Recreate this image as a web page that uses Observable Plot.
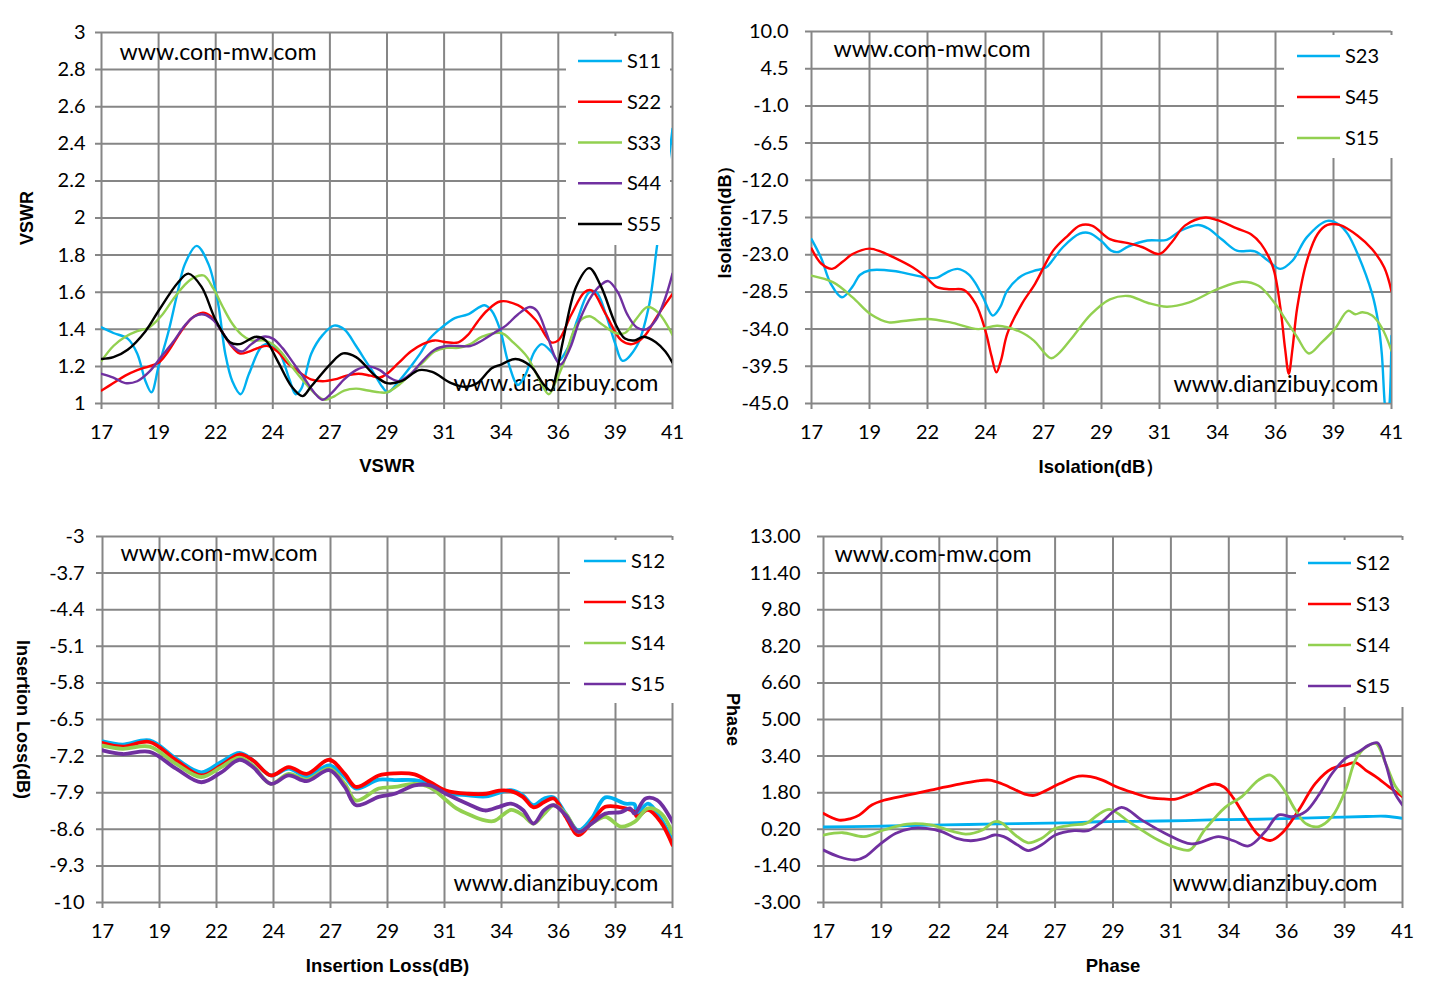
<!DOCTYPE html>
<html><head><meta charset="utf-8">
<script src="https://cdn.jsdelivr.net/npm/d3@7"></script>
<script src="https://cdn.jsdelivr.net/npm/@observablehq/plot@0.6"></script>
<style>
html,body{margin:0;padding:0;background:#fff;}
#root{position:relative;width:1433px;height:999px;overflow:hidden;background:#fff;}
.panel{position:absolute;}
.panel svg{display:block;overflow:visible;}
</style></head><body><div id="root"></div>
<script>
// ---------- shared axis data ----------
const xTickValues = [17, 19.4, 21.8, 24.2, 26.6, 29, 31.4, 33.8, 36.2, 38.6, 41];
const xTickLabels = ["17","19","22","24","27","29","31","34","36","39","41"];

// ---------- VSWR panel ----------
const vswrTicks = [1, 1.2, 1.4, 1.6, 1.8, 2, 2.2, 2.4, 2.6, 2.8, 3];
const vswrLabels = ["1","1.2","1.4","1.6","1.8","2","2.2","2.4","2.6","2.8","3"];
const vswrS11 = [[17,1.41],[17.5,1.38],[18.1,1.35],[18.5,1.27],[18.85,1.12],[19.1,1.06],[19.4,1.2],[19.8,1.38],[20.2,1.6],[20.5,1.75],[21.0,1.85],[21.5,1.75],[21.9,1.54],[22.2,1.27],[22.5,1.12],[22.85,1.05],[23.2,1.16],[23.75,1.31],[24.13,1.32],[24.5,1.27],[24.9,1.13],[25.16,1.05],[25.4,1.08],[25.82,1.27],[26.3,1.37],[26.77,1.42],[27.2,1.4],[27.7,1.31],[28.1,1.23],[28.46,1.16],[28.8,1.09],[29.03,1.06],[29.5,1.12],[30.0,1.2],[30.4,1.27],[30.8,1.35],[31.3,1.41],[31.85,1.46],[32.4,1.48],[33.1,1.53],[33.4,1.5],[33.75,1.4],[34.1,1.22],[34.5,1.1],[34.8,1.15],[35.2,1.28],[35.5,1.32],[35.9,1.28],[36.2,1.23],[36.6,1.3],[37.0,1.45],[37.5,1.6],[37.8,1.6],[38.2,1.48],[38.6,1.32],[38.9,1.23],[39.5,1.31],[40.0,1.52],[40.35,1.85],[40.7,2.17],[41.0,2.48]];
const vswrS22 = [[17,1.07],[17.5,1.11],[18,1.15],[18.5,1.18],[19,1.2],[19.4,1.22],[19.8,1.28],[20.3,1.38],[20.8,1.46],[21.26,1.49],[21.6,1.47],[22.0,1.4],[22.4,1.32],[22.8,1.27],[23.2,1.28],[23.6,1.3],[24.0,1.31],[24.4,1.28],[24.8,1.22],[25.3,1.17],[25.8,1.13],[26.3,1.12],[26.8,1.13],[27.3,1.15],[27.8,1.16],[28.3,1.15],[28.7,1.14],[29.0,1.16],[29.5,1.22],[30.0,1.28],[30.5,1.32],[31.0,1.34],[31.5,1.33],[32.0,1.33],[32.4,1.37],[32.8,1.44],[33.2,1.5],[33.75,1.55],[34.5,1.53],[35.25,1.45],[35.9,1.33],[36.2,1.34],[36.75,1.48],[37.3,1.6],[37.6,1.61],[38.2,1.48],[38.85,1.34],[39.3,1.32],[39.8,1.36],[40.35,1.47],[41.0,1.59]];
const vswrS33 = [[17,1.23],[17.5,1.31],[18,1.36],[18.5,1.39],[19,1.41],[19.5,1.47],[20,1.56],[20.5,1.64],[20.9,1.68],[21.3,1.69],[21.7,1.62],[22.1,1.52],[22.5,1.43],[22.9,1.37],[23.3,1.34],[23.8,1.34],[24.2,1.32],[24.6,1.27],[25.0,1.2],[25.5,1.12],[26.0,1.05],[26.4,1.02],[26.8,1.04],[27.2,1.07],[27.7,1.08],[28.2,1.07],[28.7,1.06],[29.0,1.06],[29.5,1.1],[30.0,1.16],[30.5,1.22],[31.0,1.28],[31.5,1.3],[32.0,1.3],[32.5,1.32],[33.0,1.36],[33.8,1.38],[34.3,1.33],[34.9,1.25],[35.4,1.13],[35.8,1.05],[36.1,1.12],[36.4,1.21],[37.0,1.43],[37.5,1.47],[38.0,1.43],[38.6,1.38],[39.0,1.38],[39.5,1.46],[39.95,1.52],[40.4,1.49],[41.0,1.37]];
const vswrS44 = [[17,1.16],[17.5,1.14],[18,1.11],[18.5,1.12],[19,1.17],[19.5,1.25],[20,1.33],[20.5,1.42],[20.9,1.47],[21.3,1.48],[21.7,1.45],[22.1,1.38],[22.5,1.31],[22.9,1.28],[23.3,1.32],[23.8,1.36],[24.2,1.35],[24.6,1.3],[25.0,1.23],[25.5,1.14],[26.0,1.05],[26.3,1.02],[26.7,1.06],[27.2,1.13],[27.7,1.18],[28.2,1.2],[28.7,1.18],[29.1,1.14],[29.5,1.12],[30.0,1.16],[30.5,1.23],[31.0,1.29],[31.5,1.31],[32.0,1.31],[32.5,1.31],[33.0,1.34],[33.5,1.38],[34.0,1.42],[34.5,1.48],[35.0,1.52],[35.3,1.5],[35.7,1.38],[36.1,1.24],[36.3,1.21],[36.7,1.3],[37.1,1.45],[37.6,1.58],[38.0,1.64],[38.3,1.66],[38.7,1.6],[39.1,1.48],[39.5,1.41],[39.9,1.4],[40.3,1.45],[40.7,1.57],[41.0,1.7]];
const vswrS55 = [[17,1.24],[17.5,1.25],[18.1,1.29],[18.85,1.39],[19.4,1.5],[20.2,1.65],[20.65,1.7],[21.2,1.63],[21.8,1.45],[22.4,1.33],[22.8,1.32],[23.5,1.36],[23.9,1.34],[24.4,1.23],[25.0,1.09],[25.45,1.04],[25.8,1.09],[26.6,1.21],[27.15,1.27],[27.7,1.25],[28.5,1.15],[29.0,1.11],[29.6,1.12],[30.35,1.18],[30.9,1.17],[31.7,1.11],[32.3,1.09],[32.8,1.11],[33.4,1.19],[33.8,1.21],[34.4,1.24],[35.05,1.2],[35.6,1.1],[35.9,1.07],[36.1,1.15],[36.4,1.34],[36.95,1.63],[37.5,1.73],[38.0,1.63],[38.6,1.43],[39.0,1.35],[39.4,1.34],[39.8,1.36],[40.3,1.33],[40.7,1.28],[41.0,1.22]];

// ---------- Isolation panel ----------
const isoTicks = [-45, -39.5, -34, -28.5, -23, -17.5, -12, -6.5, -1, 4.5, 10];
const isoLabels = ["-45.0","-39.5","-34.0","-28.5","-23.0","-17.5","-12.0","-6.5","-1.0","4.5","10.0"];
const isoS23 = [[17,-20.7],[17.4,-23.5],[17.8,-27.3],[18.26,-29.3],[18.7,-27.7],[19.0,-26],[19.42,-25.3],[20.4,-25.4],[21.1,-25.9],[21.8,-26.4],[22.2,-26.4],[22.6,-25.6],[23.05,-25.1],[23.5,-25.9],[23.8,-27.3],[24.1,-29.3],[24.5,-32],[24.8,-30.8],[25.1,-28.3],[25.7,-26.1],[26.2,-25.4],[26.7,-24.9],[27.0,-23.7],[27.4,-21.9],[28.1,-19.9],[28.5,-19.8],[29.0,-21],[29.4,-22.4],[29.7,-22.6],[30.1,-21.8],[30.9,-20.9],[31.7,-20.8],[32.25,-19.5],[33.0,-18.6],[33.4,-19.1],[34.0,-20.8],[34.6,-22.4],[35.35,-22.5],[35.9,-23.9],[36.4,-25.1],[36.9,-23.9],[37.5,-20.4],[38.35,-18],[38.85,-18.6],[39.2,-20],[39.6,-22.9],[40.2,-28.8],[40.45,-33],[40.6,-37.7],[40.72,-45],[40.82,-48],[40.92,-45],[41,-35]];
const isoS45 = [[17,-22.1],[17.4,-24.3],[17.85,-25.1],[18.3,-24],[18.7,-22.9],[19.4,-22.1],[19.9,-22.6],[20.4,-23.4],[21.2,-24.9],[21.7,-26.2],[22.2,-27.8],[22.75,-28.1],[23.3,-28.2],[23.8,-30.3],[24.2,-34.3],[24.45,-38],[24.65,-40.4],[24.85,-38.5],[25.1,-34.7],[25.7,-30.3],[26.25,-27.3],[27.0,-22.4],[27.6,-20.2],[28.1,-18.7],[28.6,-18.7],[29.35,-20.7],[30.1,-21.3],[30.7,-21.9],[31.4,-22.9],[31.9,-21.2],[32.45,-18.7],[33.3,-17.5],[33.8,-17.9],[34.6,-19.1],[35.2,-20],[35.6,-21.4],[36.1,-24.9],[36.4,-30.8],[36.6,-37],[36.75,-40.6],[36.9,-37],[37.1,-30.8],[37.5,-23.9],[37.95,-19.9],[38.35,-18.6],[38.85,-18.6],[39.6,-20.2],[40.2,-22.2],[40.7,-24.9],[41,-28.4]];
const isoS15 = [[17,-26.1],[17.9,-27.1],[18.7,-29.3],[19.45,-31.8],[20.2,-33],[20.8,-32.8],[21.8,-32.5],[22.75,-33],[23.9,-34],[24.7,-33.5],[25.7,-34.5],[26.2,-35.7],[26.9,-38.3],[27.2,-37.7],[27.8,-35.2],[28.57,-31.8],[29.35,-29.6],[30.1,-29.1],[30.9,-30.1],[31.7,-30.7],[32.6,-30.1],[33.8,-28.1],[34.8,-27],[35.5,-27.6],[36.2,-30.3],[36.6,-32.5],[37.1,-35.2],[37.58,-37.6],[38.1,-36],[38.65,-34],[39.2,-31.3],[39.5,-31.8],[39.8,-31.5],[40.2,-32],[40.6,-33.8],[41,-37.2]];

// ---------- Insertion loss panel ----------
const ilTicks = [-10, -9.3, -8.6, -7.9, -7.2, -6.5, -5.8, -5.1, -4.4, -3.7, -3];
const ilLabels = ["-10","-9.3","-8.6","-7.9","-7.2","-6.5","-5.8","-5.1","-4.4","-3.7","-3"];
const ilS12 = [[17,-6.92],[17.85,-6.98],[18.98,-6.9],[20.1,-7.25],[21.16,-7.51],[22.0,-7.31],[22.77,-7.14],[23.33,-7.28],[24.09,-7.57],[24.84,-7.44],[25.6,-7.59],[26.55,-7.38],[27.2,-7.6],[27.68,-7.82],[28.63,-7.65],[29.3,-7.66],[30.14,-7.66],[30.8,-7.73],[31.46,-7.9],[32.4,-7.95],[33.16,-7.97],[34.2,-7.85],[34.7,-7.95],[35.15,-8.14],[35.6,-8.01],[36.0,-7.99],[36.5,-8.3],[37.04,-8.62],[37.6,-8.39],[38.17,-7.99],[39.02,-8.11],[39.4,-8.12],[39.5,-8.3],[39.97,-8.11],[40.5,-8.39],[41,-8.81]];
const ilS13 = [[17,-6.95],[17.85,-7.02],[18.98,-6.93],[20.1,-7.28],[21.16,-7.57],[22.0,-7.38],[22.77,-7.17],[23.33,-7.28],[24.09,-7.57],[24.84,-7.41],[25.6,-7.54],[26.55,-7.27],[27.2,-7.54],[27.68,-7.79],[28.63,-7.57],[29.3,-7.53],[30.14,-7.55],[30.8,-7.7],[31.46,-7.86],[32.4,-7.92],[33.16,-7.92],[33.7,-7.86],[34.2,-7.87],[34.7,-7.98],[35.15,-8.18],[35.6,-8.08],[36.0,-8.01],[36.5,-8.36],[37.04,-8.71],[37.6,-8.46],[38.17,-8.17],[39.02,-8.2],[39.4,-8.27],[39.5,-8.36],[39.97,-8.23],[40.5,-8.46],[41,-8.9]];
const ilS14 = [[17,-7.0],[17.85,-7.06],[18.98,-7.02],[20.1,-7.35],[21.16,-7.6],[22.0,-7.41],[22.77,-7.23],[23.33,-7.38],[24.09,-7.73],[24.84,-7.54],[25.6,-7.65],[26.55,-7.44],[27.2,-7.73],[27.68,-8.05],[28.63,-7.82],[29.3,-7.79],[30.14,-7.73],[30.8,-7.8],[31.46,-8.04],[31.9,-8.2],[32.5,-8.33],[33.1,-8.43],[33.5,-8.44],[34.2,-8.23],[34.7,-8.33],[35.15,-8.49],[35.6,-8.3],[36.0,-8.14],[36.5,-8.3],[37.04,-8.65],[37.6,-8.49],[38.17,-8.36],[38.83,-8.55],[39.4,-8.46],[39.97,-8.2],[40.53,-8.3],[41,-8.68]];
const ilS15 = [[17,-7.09],[17.85,-7.16],[18.98,-7.12],[20.1,-7.44],[21.16,-7.7],[22.0,-7.51],[22.77,-7.27],[23.33,-7.41],[24.09,-7.73],[24.84,-7.57],[25.6,-7.68],[26.55,-7.47],[27.2,-7.79],[27.68,-8.14],[28.63,-7.98],[29.3,-7.92],[30.14,-7.76],[30.8,-7.76],[31.46,-7.92],[32.41,-8.12],[33.1,-8.24],[33.7,-8.17],[34.2,-8.11],[34.7,-8.23],[35.15,-8.49],[35.6,-8.23],[36.0,-8.14],[36.5,-8.33],[37.04,-8.65],[37.6,-8.49],[38.17,-8.3],[38.83,-8.27],[39.21,-8.2],[39.4,-8.3],[39.87,-8.01],[40.35,-8.04],[41,-8.46]];

// ---------- Phase panel ----------
const phTicks = [-3, -1.4, 0.2, 1.8, 3.4, 5, 6.6, 8.2, 9.8, 11.4, 13];
const phLabels = ["-3.00","-1.40","0.20","1.80","3.40","5.00","6.60","8.20","9.80","11.40","13.00"];
const phS12 = [[17,0.3],[19,0.33],[21,0.37],[23,0.41],[25,0.45],[27,0.48],[28.4,0.53],[30,0.55],[32,0.58],[33.5,0.62],[35,0.64],[36.5,0.68],[38,0.72],[39.5,0.76],[40.3,0.77],[41,0.68]];
const phS13 = [[17,0.89],[17.64,0.6],[18.1,0.66],[18.48,0.82],[19.0,1.26],[19.5,1.47],[20.47,1.69],[21.44,1.91],[22.42,2.13],[23.39,2.32],[23.88,2.35],[24.37,2.2],[24.9,1.95],[25.34,1.74],[25.73,1.68],[26.12,1.84],[26.8,2.2],[27.58,2.52],[28.07,2.5],[28.56,2.35],[29.14,2.06],[29.83,1.8],[30.46,1.6],[31.1,1.53],[31.6,1.52],[32.26,1.77],[32.8,2.05],[33.23,2.18],[33.6,2.05],[34.0,1.55],[34.48,0.75],[35.03,-0.05],[35.52,-0.29],[36.0,0.03],[36.7,1.04],[37.39,2.21],[38.08,2.86],[38.64,3.01],[39.05,3.11],[39.47,2.79],[39.89,2.5],[40.44,2.06],[41,1.63]];
const phS14 = [[17,-0.05],[17.8,0.05],[18.68,-0.12],[19.5,0.17],[20.47,0.43],[21.44,0.39],[22.42,0.09],[22.9,-0.01],[23.59,0.17],[24.08,0.53],[24.37,0.49],[24.95,-0.05],[25.48,-0.39],[26.03,-0.2],[26.61,0.24],[27.29,0.38],[27.88,0.46],[28.4,0.85],[28.85,1.07],[29.76,0.46],[30.87,-0.27],[31.6,-0.6],[32.19,-0.7],[32.8,0.17],[33.65,1.16],[34.34,1.63],[35.03,2.35],[35.52,2.57],[36.0,2.06],[36.56,1.04],[36.98,0.46],[37.53,0.32],[38.08,0.75],[38.64,1.92],[39.05,3.23],[39.47,3.78],[39.89,3.95],[40.3,3.08],[40.72,2.06],[41,1.7]];
const phS15 = [[17,-0.71],[17.64,-1.0],[18.33,-1.14],[18.72,-1.0],[19.3,-0.49],[19.98,0.02],[20.66,0.24],[21.25,0.24],[21.93,0.09],[22.52,-0.2],[23.1,-0.3],[23.69,-0.2],[24.08,-0.05],[24.47,-0.12],[25.05,-0.49],[25.48,-0.73],[26.03,-0.49],[26.61,-0.05],[27.39,0.14],[27.97,0.14],[28.46,0.46],[29.35,1.16],[30.18,0.61],[31.15,0.03],[32.26,-0.44],[33.37,-0.12],[34.0,-0.3],[34.62,-0.53],[35.31,0.1],[35.87,0.83],[36.42,0.75],[36.98,0.97],[37.53,1.7],[38.08,2.64],[38.64,3.3],[39.19,3.59],[39.61,3.88],[39.96,3.98],[40.3,3.08],[40.65,1.84],[41,1.26]];

// ---------- colours ----------
const CYAN = "#00B0F0", RED = "#FF0000", GREEN = "#92D050", PURPLE = "#7030A0", BLACK = "#000000";
const GRID = "#868686";
const TICKFONT = "Lato, 'Open Sans', sans-serif";
const TITLEFONT = "'Liberation Sans', Arial, sans-serif";

const panels = [
  {left:0, top:0, width:700, height:490, mL:101, mR:28, mT:32, mB:87,
   yDomain:[1,3], yTicks:vswrTicks, yLabels:vswrLabels, yPad:16,
   yTitle:"VSWR", yTitleX:27, yRot:-90, xTitle:"VSWR", xTitleDy:63, lw:2.4,
   wm1:{dx:18, dy:20}, wm2:{dx:-14, dy:-20},
   leg:{x0:566, x1:670, y0:36, y1:245, lx1:578, lx2:622, tx:627, cy0:61, dy:40.75},
   series:[{name:"S11",color:CYAN,data:vswrS11},{name:"S22",color:RED,data:vswrS22},{name:"S33",color:GREEN,data:vswrS33},{name:"S44",color:PURPLE,data:vswrS44},{name:"S55",color:BLACK,data:vswrS55}]},
  {left:700, top:0, width:733, height:490, mL:111, mR:42, mT:31, mB:87,
   yDomain:[-45,10], yTicks:isoTicks, yLabels:isoLabels, yPad:23,
   yTitle:"Isolation(dB）", yTitleX:25, yRot:-90, xTitle:"Isolation(dB）", xTitleDy:64, lw:2.4,
   wm1:{dx:22, dy:18}, wm2:{dx:-13, dy:-19},
   leg:{x0:584, x1:694, y0:35, y1:158, lx1:597, lx2:640, tx:645, cy0:56, dy:41},
   series:[{name:"S23",color:CYAN,data:isoS23},{name:"S45",color:RED,data:isoS45},{name:"S15",color:GREEN,data:isoS15}]},
  {left:0, top:490, width:700, height:509, mL:102, mR:28, mT:46, mB:97,
   yDomain:[-10,-3], yTicks:ilTicks, yLabels:ilLabels, yPad:18,
   yTitle:"Insertion Loss(dB)", yTitleX:22, yRot:90, xTitle:"Insertion Loss(dB)", xTitleDy:64, lw:3.8,
   wm1:{dx:18, dy:17}, wm2:{dx:-14, dy:-19},
   leg:{x0:570, x1:674, y0:50, y1:213, lx1:584, lx2:626, tx:631, cy0:71, dy:41},
   series:[{name:"S12",color:CYAN,data:ilS12},{name:"S13",color:RED,data:ilS13},{name:"S14",color:GREEN,data:ilS14},{name:"S15",color:PURPLE,data:ilS15}]},
  {left:700, top:490, width:733, height:509, mL:123, mR:31, mT:46, mB:97,
   yDomain:[-3,13], yTicks:phTicks, yLabels:phLabels, yPad:23,
   yTitle:"Phase", yTitleX:32, yRot:90, xTitle:"Phase", xTitleDy:64, lw:2.8,
   wm1:{dx:11, dy:18}, wm2:{dx:-25, dy:-19},
   leg:{x0:596, x1:704, y0:50, y1:217, lx1:608, lx2:651, tx:656, cy0:73, dy:41},
   series:[{name:"S12",color:CYAN,data:phS12},{name:"S13",color:RED,data:phS13},{name:"S14",color:GREEN,data:phS14},{name:"S15",color:PURPLE,data:phS15}]}
];

const root = document.getElementById("root");

panels.forEach(cfg => {
  const svg = Plot.plot({
    width: cfg.width, height: cfg.height,
    marginLeft: cfg.mL, marginRight: cfg.mR, marginTop: cfg.mT, marginBottom: cfg.mB,
    style: {fontFamily: TICKFONT, background: "white", color: "black"},
    x: {domain: [17, 41], axis: null},
    y: {domain: cfg.yDomain, axis: null},
    marks: [
      Plot.ruleY(cfg.yTicks, {y: d => d, stroke: GRID, strokeWidth: 2, insetLeft: -6}),
      Plot.ruleX(xTickValues, {x: d => d, stroke: GRID, strokeWidth: 2, insetBottom: -6}),
      Plot.text(xTickValues, {x: d => d, text: (d, i) => xTickLabels[i], frameAnchor: "bottom", dy: 29, fontSize: 20, fill: "black", lineAnchor: "middle"}),
      Plot.text(cfg.yTicks, {y: d => d, text: (d, i) => cfg.yLabels[i], frameAnchor: "left", dx: -cfg.yPad, textAnchor: "end", fontSize: 20, fill: "black", lineAnchor: "middle"}),
      Plot.text(["www.com-mw.com"], {text: d => d, frameAnchor: "top-left", dx: cfg.wm1.dx, dy: cfg.wm1.dy, textAnchor: "start", lineAnchor: "middle", fontSize: 23, fill: "black"}),
      Plot.text(["www.dianzibuy.com"], {text: d => d, frameAnchor: "bottom-right", dx: cfg.wm2.dx, dy: cfg.wm2.dy, textAnchor: "end", lineAnchor: "middle", fontSize: 23, fill: "black"}),
      ...cfg.series.map(s => Plot.line(s.data, {x: d => d[0], y: d => d[1], stroke: s.color, strokeWidth: cfg.lw, curve: "catmull-rom", clip: true})),
      Plot.text([cfg.yTitle], {text: d => d, frameAnchor: "left", dx: cfg.yTitleX - cfg.mL, rotate: cfg.yRot, textAnchor: "middle", lineAnchor: "middle", fontSize: 18, fontWeight: "bold", fontFamily: TITLEFONT, fill: "black"}),
      Plot.text([cfg.xTitle], {text: d => d, frameAnchor: "bottom", dy: cfg.xTitleDy, textAnchor: "middle", lineAnchor: "middle", fontSize: 18.5, fontWeight: "bold", fontFamily: TITLEFONT, fill: "black"})
    ]
  });

  const s = d3.select(svg);
  s.selectAll("text").filter(function(){ return this.textContent === "www.com-mw.com"; })
    .attr("textLength", 197).attr("lengthAdjust", "spacingAndGlyphs");
  s.selectAll("text").filter(function(){ return this.textContent === "www.dianzibuy.com"; })
    .attr("textLength", 205).attr("lengthAdjust", "spacingAndGlyphs");

  // legend box (drawn over the plot, as in the reference)
  const L = cfg.leg;
  const g = s.append("g").attr("class", "legend");
  g.append("rect").attr("x", L.x0).attr("y", L.y0).attr("width", L.x1 - L.x0).attr("height", L.y1 - L.y0).attr("fill", "white");
  cfg.series.forEach((ser, i) => {
    const cy = L.cy0 + i * L.dy;
    g.append("line").attr("x1", L.lx1).attr("x2", L.lx2).attr("y1", cy).attr("y2", cy)
      .attr("stroke", ser.color).attr("stroke-width", 2.4);
    g.append("text").attr("x", L.tx).attr("y", cy).attr("dy", "0.35em")
      .attr("text-anchor", "start")
      .attr("font-family", TICKFONT).attr("font-size", 20).attr("fill", "black").text(ser.name);
  });

  const div = document.createElement("div");
  div.className = "panel";
  div.style.left = cfg.left + "px";
  div.style.top = cfg.top + "px";
  div.appendChild(svg);
  root.appendChild(div);
});
</script>
</body></html>
